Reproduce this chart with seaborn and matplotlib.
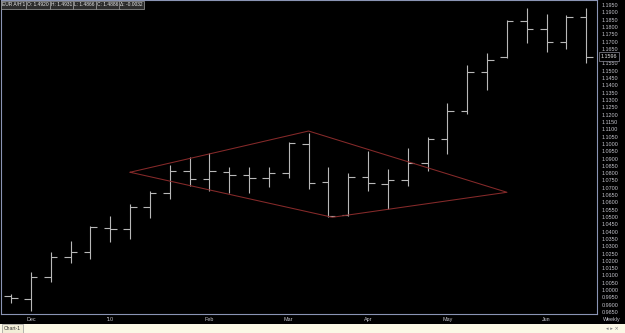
import numpy as np
import pandas as pd
import matplotlib
matplotlib.use("Agg")
import matplotlib.pyplot as plt
from matplotlib.patches import Rectangle
import seaborn as sns

# barras semanais (OHLC), da mais antiga para a mais recente
abertura = [0.9960, 0.9937, 1.0090, 1.0228, 1.0258, 1.0425, 1.0416, 1.0566, 1.0662, 1.0817,
            1.0762, 1.0810, 1.0787, 1.0765, 1.0799, 1.0999, 1.0737, 1.0514, 1.0776, 1.0726,
            1.0751, 1.0871, 1.1031, 1.1223, 1.1492, 1.1592, 1.1839, 1.1784, 1.1695, 1.1868]
maxima = [0.9971, 1.0126, 1.0258, 1.0336, 1.0440, 1.0507, 1.0587, 1.0680, 1.0856, 1.0912,
          1.0936, 1.0840, 1.0840, 1.0840, 1.1010, 1.1072, 1.0840, 1.0799, 1.0953, 1.0826,
          1.0970, 1.1045, 1.1278, 1.1538, 1.1620, 1.1845, 1.1929, 1.1888, 1.1882, 1.1929]
minima = [0.9912, 0.9857, 1.0053, 1.0187, 1.0211, 1.0327, 1.0349, 1.0493, 1.0621, 1.0714,
          1.0680, 1.0662, 1.0662, 1.0707, 1.0765, 1.0691, 1.0502, 1.0510, 1.0680, 1.0555,
          1.0714, 1.0817, 1.0929, 1.1202, 1.1367, 1.1585, 1.1688, 1.1631, 1.1651, 1.1551]
fechamento = [0.9946, 1.0090, 1.0228, 1.0263, 1.0429, 1.0418, 1.0566, 1.0662, 1.0817, 1.0762,
              1.0817, 1.0787, 1.0765, 1.0799, 1.1004, 1.0735, 1.0509, 1.0776, 1.0730, 1.0751,
              1.0871, 1.1031, 1.1223, 1.1492, 1.1574, 1.1839, 1.1784, 1.1695, 1.1870, 1.1596]

# meses no eixo x (indice da barra)
meses_idx = [1, 5, 10, 14, 18, 22, 27]
meses_txt = ["Dec", "'10", "Feb", "Mar", "Apr", "May", "Jun"]

# vertices do losango (indice da barra, preco)
losango_x = [6, 15, 25, 16.2, 6]
losango_y = [1.0806, 1.1088, 1.0669, 1.0498, 1.0806]

ultimo_preco = 1.1596
cabecalho = ["EUR A/H'1", "O: 1.4920", "H: 1.4931", "L: 1.4866", "C: 1.4886", "\u0394: -0.0032"]

df = pd.DataFrame({"open": abertura, "high": maxima, "low": minima, "close": fechamento})
df["idx"] = np.arange(len(df))

sns.set_theme(style="dark", rc={"axes.facecolor": "black", "figure.facecolor": "black",
                                "axes.grid": False})
plt.rcParams["font.family"] = ["Liberation Sans", "DejaVu Sans"]

fig = plt.figure(figsize=(6.25, 3.33), dpi=100)
ax = fig.add_axes([1 / 625, 19 / 333, 596 / 625, 314 / 333])

cor_barra = "#b8b8b8"
ax.vlines(df["idx"], df["low"], df["high"], color=cor_barra, lw=0.8)
ax.hlines(df["open"], df["idx"] - 0.33, df["idx"], color=cor_barra, lw=0.8)
ax.hlines(df["close"], df["idx"], df["idx"] + 0.33, color=cor_barra, lw=0.8)

sns.lineplot(x=losango_x, y=losango_y, sort=False, estimator=None, ax=ax,
             color="#862a2a", lw=0.75)

ax.set_xlim(-0.504, 29.54)
ax.set_ylim(0.98364, 1.19842)

# eixo de precos a direita
ax.yaxis.tick_right()
ticks_y = np.round(np.arange(0.985, 1.19501, 0.005), 4)
ax.set_yticks(ticks_y)
ax.set_yticklabels(["" if abs(t - 1.16) < 1e-6 else f"{t:.4f}" for t in ticks_y])
ax.tick_params(axis="y", length=0, pad=3.3, labelsize=3.9, colors="#c4c4cc")
ax.set_xticks(meses_idx)
ax.set_xticklabels(meses_txt)
ax.tick_params(axis="x", length=0, pad=2.2, labelsize=3.9, colors="#c4c4cc")
ax.set_xlabel("")
ax.set_ylabel("")
for s in ax.spines.values():
    s.set_visible(True)
    s.set_color("#8a94b4")
    s.set_linewidth(0.8)

# caixa do ultimo preco
ax.text(1.006, ultimo_preco, f"{ultimo_preco:.4f}", transform=ax.get_yaxis_transform(),
        fontsize=3.9, color="#e0e0e0", va="center", ha="left",
        bbox=dict(boxstyle="square,pad=0.35", facecolor="black", edgecolor="#8a8a98", lw=0.5))

# cabecalho superior
pos_x = [2, 27, 51, 74, 97, 120]
for px, txt in zip(pos_x, cabecalho):
    fig.text(px / 625, 1 - 5 / 333, txt, fontsize=3.5, color="#e8e8e8", va="center", ha="left",
             bbox=dict(boxstyle="square,pad=0.25", facecolor="#2c2c2c", edgecolor="#a0a0a0", lw=0.5))

fig.text(612 / 625, 1 - 320 / 333, "Weekly", fontsize=3.9, color="#c4c4cc", ha="center", va="center")

# faixa bege inferior
fig.add_artist(Rectangle((0, 0), 1, 9 / 333, transform=fig.transFigure,
                         facecolor="#fbf8e6", edgecolor="none"))
fig.text(4 / 625, 4.5 / 333, "Chart-1", fontsize=3.7, color="#333333", va="center", ha="left",
         bbox=dict(boxstyle="square,pad=0.3", facecolor="#f2eed8", edgecolor="#9a9a9a", lw=0.5))
fig.text(612 / 625, 4.5 / 333, "\u25c2 \u25b8 \u00d7", fontsize=3.7, color="#808080",
         va="center", ha="center", family=["DejaVu Sans"])

fig.savefig("out.png", dpi=100, facecolor="black")
